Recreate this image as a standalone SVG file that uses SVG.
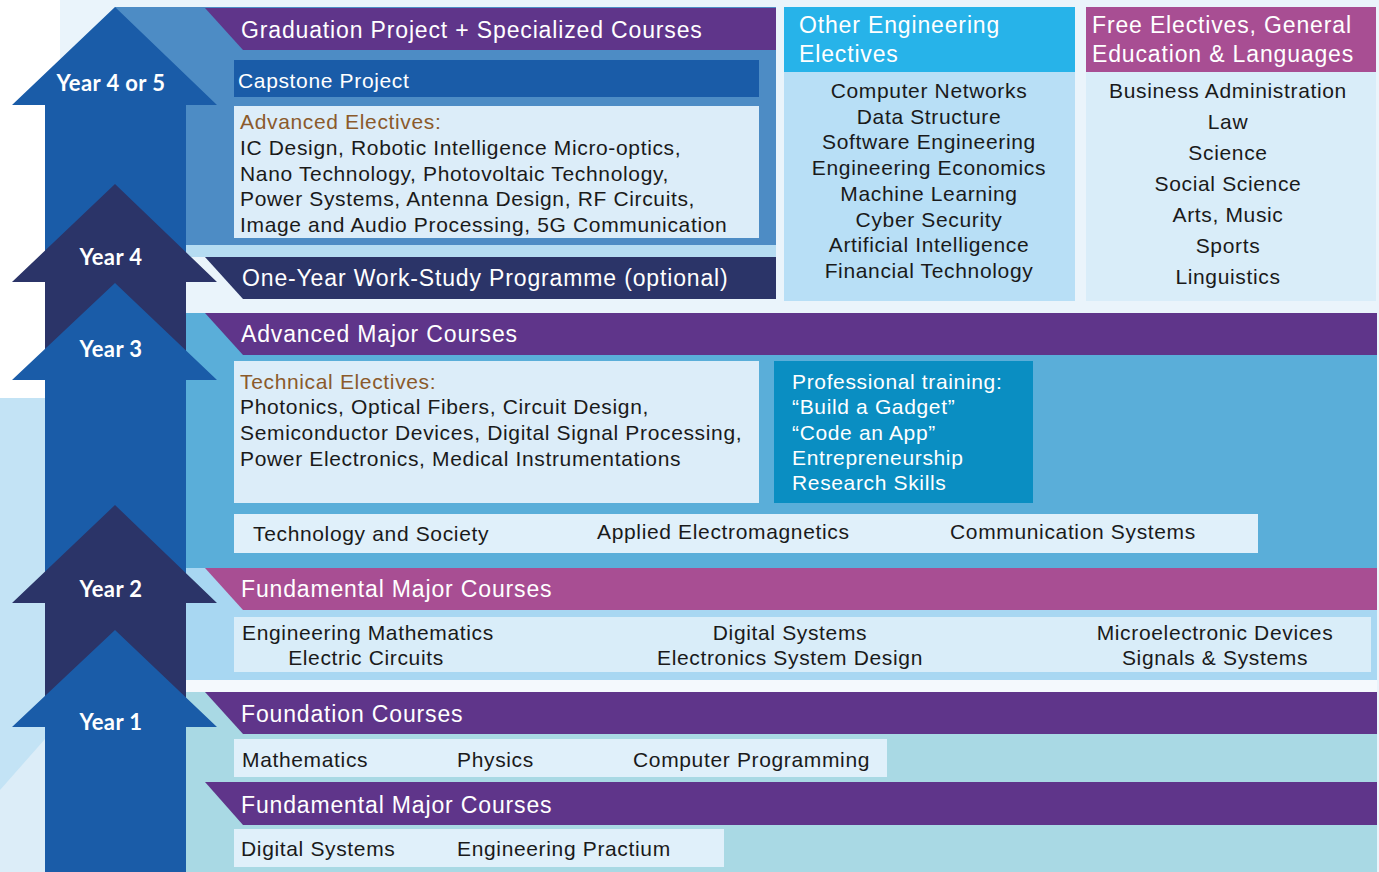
<svg xmlns="http://www.w3.org/2000/svg" width="1379" height="872" viewBox="0 0 1379 872">
<style>
.t{font-family:"Liberation Sans",Arial,sans-serif;font-size:21px;letter-spacing:0.65px;fill:#1a1a1a}
.w{fill:#ffffff}
.h{font-size:23px;letter-spacing:0.85px}
.br{fill:#8b5a2b}
.c{text-anchor:middle}
.yr{font-family:Lato,"Open Sans",sans-serif;font-weight:700;font-size:22px;letter-spacing:0.4px;fill:#ffffff;text-anchor:middle}
.light{fill:#dcedf9}
.purple{fill:#5f358a}
.magenta{fill:#a84e93}
.navy{fill:#2b3468}
.blue{fill:#1a5ca8}
</style>
<g id="background">
<rect x="0" y="0" width="1379" height="872" fill="#eaf4fb"/>
<rect x="0" y="0" width="60" height="398" fill="#ffffff"/>
<rect x="0" y="398" width="60" height="474" fill="#c3e3f5"/>
<polygon points="0,790 60,722 60,872 0,872" fill="#dcedf8"/>
<rect x="186" y="245" width="590" height="12" fill="#b5dcf2"/>
<rect x="186" y="680" width="1191" height="12" fill="#f4f9fd"/>
</g>
<g id="year45-panel">
<rect x="115" y="7" width="661" height="238" fill="#4d8cc5"/>
<polygon class="purple" points="205,8 776,8 776,50 243,50"/>
<text class="t w h" x="241" y="38">Graduation Project + Specialized Courses</text>
<rect class="blue" x="234" y="60" width="525" height="37"/>
<text class="t w" x="238" y="88">Capstone Project</text>
<rect class="light" x="234" y="106" width="525" height="132"/>
<text class="t br" x="240" y="129">Advanced Electives:</text>
<text class="t" x="240" y="155">IC Design, Robotic Intelligence Micro-optics,</text>
<text class="t" x="240" y="181">Nano Technology, Photovoltaic Technology,</text>
<text class="t" x="240" y="206">Power Systems, Antenna Design, RF Circuits,</text>
<text class="t" x="240" y="232">Image and Audio Processing, 5G Communication</text>
</g>
<g id="work-study">
<polygon class="navy" points="205,257 776,257 776,299 243,299"/>
<text class="t w h" x="242" y="286">One-Year Work-Study Programme (optional)</text>
</g>
<g id="other-engineering">
<rect x="784" y="7" width="291" height="65" fill="#27b3e9"/>
<rect x="784" y="72" width="291" height="229" fill="#b8dff6"/>
<text class="t w h" x="799" y="33">Other Engineering</text>
<text class="t w h" x="799" y="62">Electives</text>
<text class="t c" x="929" y="98">Computer Networks</text>
<text class="t c" x="929" y="124">Data Structure</text>
<text class="t c" x="929" y="149">Software Engineering</text>
<text class="t c" x="929" y="175">Engineering Economics</text>
<text class="t c" x="929" y="201">Machine Learning</text>
<text class="t c" x="929" y="227">Cyber Security</text>
<text class="t c" x="929" y="252">Artificial Intelligence</text>
<text class="t c" x="929" y="278">Financial Technology</text>
</g>
<g id="free-electives">
<rect class="magenta" x="1086" y="7" width="290" height="65"/>
<rect x="1086" y="72" width="290" height="229" fill="#d9edf9"/>
<text class="t w h" x="1092" y="33">Free Electives, General</text>
<text class="t w h" x="1092" y="62">Education &amp; Languages</text>
<text class="t c" x="1228" y="98">Business Administration</text>
<text class="t c" x="1228" y="129">Law</text>
<text class="t c" x="1228" y="160">Science</text>
<text class="t c" x="1228" y="191">Social Science</text>
<text class="t c" x="1228" y="222">Arts, Music</text>
<text class="t c" x="1228" y="253">Sports</text>
<text class="t c" x="1228" y="284">Linguistics</text>
</g>
<g id="year3-panel">
<rect x="186" y="313" width="1191" height="255" fill="#5aaed9"/>
<polygon class="purple" points="205,313 1377,313 1377,355 243,355"/>
<text class="t w h" x="241" y="342">Advanced Major Courses</text>
<rect class="light" x="234" y="361" width="525" height="142"/>
<text class="t br" x="240" y="389">Technical Electives:</text>
<text class="t" x="240" y="414">Photonics, Optical Fibers, Circuit Design,</text>
<text class="t" x="240" y="440">Semiconductor Devices, Digital Signal Processing,</text>
<text class="t" x="240" y="466">Power Electronics, Medical Instrumentations</text>
</g>
<g id="professional-training">
<rect x="774" y="361" width="259" height="142" fill="#0a8ec2"/>
<text class="t w" x="792" y="389">Professional training:</text>
<text class="t w" x="792" y="414">“Build a Gadget”</text>
<text class="t w" x="792" y="440">“Code an App”</text>
<text class="t w" x="792" y="465">Entrepreneurship</text>
<text class="t w" x="792" y="490">Research Skills</text>
</g>
<g id="year3-core">
<rect x="234" y="514" width="1024" height="39" fill="#e0f0fa"/>
<text class="t" x="253" y="541">Technology and Society</text>
<text class="t" x="597" y="539">Applied Electromagnetics</text>
<text class="t" x="950" y="539">Communication Systems</text>
</g>
<g id="year2-panel">
<rect x="186" y="568" width="1191" height="112" fill="#a8d7f2"/>
<polygon class="magenta" points="205,568 1377,568 1377,610 243,610"/>
<text class="t w h" x="241" y="597">Fundamental Major Courses</text>
<rect x="234" y="617" width="1137" height="55" fill="#d9edf9"/>
<text class="t" x="242" y="640">Engineering Mathematics</text>
<text class="t c" x="366" y="665">Electric Circuits</text>
<text class="t c" x="790" y="640">Digital Systems</text>
<text class="t c" x="790" y="665">Electronics System Design</text>
<text class="t c" x="1215" y="640">Microelectronic Devices</text>
<text class="t c" x="1215" y="665">Signals &amp; Systems</text>
</g>
<g id="year1-panel">
<rect x="186" y="692" width="1191" height="180" fill="#a9d9e4"/>
<polygon class="purple" points="205,692 1377,692 1377,734 243,734"/>
<text class="t w h" x="241" y="722">Foundation Courses</text>
<rect x="234" y="739" width="653" height="38" fill="#e0f0fa"/>
<text class="t" x="242" y="767">Mathematics</text>
<text class="t" x="457" y="767">Physics</text>
<text class="t" x="633" y="767">Computer Programming</text>
<polygon class="purple" points="205,782 1377,782 1377,825 243,825"/>
<text class="t w h" x="241" y="813">Fundamental Major Courses</text>
<rect x="234" y="829" width="490" height="38" fill="#e0f0fa"/>
<text class="t" x="241" y="856">Digital Systems</text>
<text class="t" x="457" y="856">Engineering Practium</text>
</g>
<g id="connectors"></g>
<g id="arrow-year45">
<polygon class="blue" points="115,7 217,105 186,105 186,872 45,872 45,105 12,105"/>
<text class="yr" x="111" y="91">Year 4 or 5</text>
</g>
<g id="arrow-year4">
<polygon class="navy" points="115,184 217,282 186,282 186,872 45,872 45,282 12,282"/>
<text class="yr" x="111" y="265">Year 4</text>
</g>
<g id="arrow-year3">
<polygon class="blue" points="115,283 217,380 186,380 186,872 45,872 45,380 12,380"/>
<text class="yr" x="111" y="357">Year 3</text>
</g>
<g id="arrow-year2">
<polygon class="navy" points="115,505 217,603 186,603 186,872 45,872 45,603 12,603"/>
<text class="yr" x="111" y="597">Year 2</text>
</g>
<g id="arrow-year1">
<polygon class="blue" points="115,630 217,727 186,727 186,872 45,872 45,727 12,727"/>
<text class="yr" x="111" y="730">Year 1</text>
</g>
</svg>
